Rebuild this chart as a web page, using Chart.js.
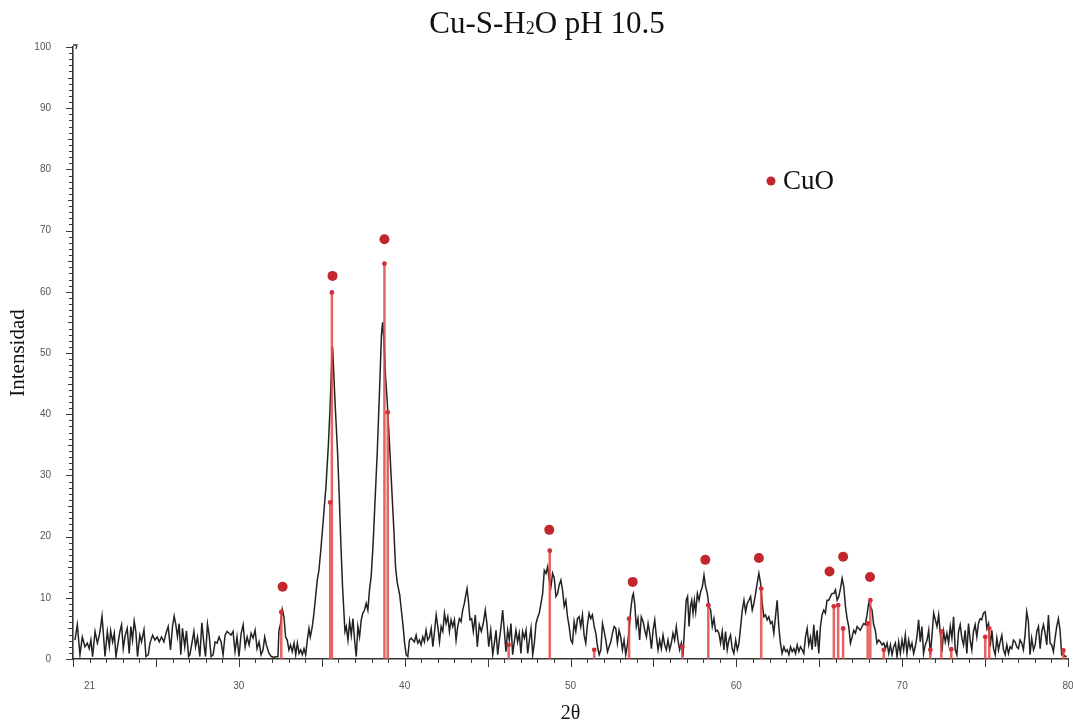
<!DOCTYPE html>
<html>
<head>
<meta charset="utf-8">
<title>Cu-S-H2O pH 10.5</title>
<script src="https://cdn.jsdelivr.net/npm/chart.js@4.4.1/dist/chart.umd.min.js"></script>
<style>
  html, body { margin: 0; padding: 0; background: #ffffff; }
  #wrap { width: 1073px; height: 726px; }
</style>
</head>
<body>
<div id="wrap"><canvas id="xrd" width="1073" height="726"></canvas></div>
<script>
// Diffractogram: 2θ (degrees) and measured intensity
const twoTheta = [
  20.12,20.26,20.42,20.56,20.72,20.86,20.98,21.08,21.18,21.33,
  21.47,21.59,21.67,21.75,21.83,21.93,22.07,22.19,22.27,22.39,
  22.49,22.59,22.73,22.83,22.93,23.03,23.15,23.27,23.39,23.49,
  23.59,23.69,23.79,23.89,24.03,24.13,24.28,24.4,24.54,24.64,
  24.8,24.94,25.08,25.2,25.34,25.48,25.64,25.74,25.88,26.0,
  26.1,26.2,26.3,26.4,26.5,26.6,26.74,26.84,26.97,27.05,
  27.17,27.29,27.39,27.51,27.65,27.77,27.89,27.99,28.11,28.21,
  28.33,28.45,28.57,28.69,28.81,28.93,29.05,29.17,29.29,29.41,
  29.53,29.65,29.77,29.89,30.01,30.14,30.26,30.38,30.5,30.62,
  30.74,30.86,30.98,31.1,31.22,31.34,31.46,31.56,31.66,31.82,
  31.96,32.1,32.36,32.42,32.52,32.62,32.72,32.82,32.92,33.02,
  33.12,33.22,33.33,33.43,33.53,33.63,33.73,33.83,33.93,34.03,
  34.13,34.23,34.31,34.43,34.53,34.63,34.73,34.83,
  34.95,35.1,35.25,35.4,35.5,35.58,35.65,35.72,35.8,35.95,
  36.05,36.15,36.25,36.33,36.4,36.48,36.58,36.68,36.78,36.88,
  36.98,37.08,37.18,37.28,37.38,37.48,37.58,37.68,37.78,37.88,37.98,
  38.1,38.2,38.35,38.5,38.6,38.67,38.75,38.85,38.95,39.05,
  39.2,39.35,39.45,39.55,39.7,39.8,39.9,40.0,40.09,40.19,
  40.29,40.39,40.49,40.59,40.69,40.79,40.89,40.99,41.09,41.19,
  41.29,41.39,41.5,41.6,41.7,41.8,41.9,42.0,42.1,42.2,
  42.3,42.4,42.5,42.6,42.7,42.8,42.9,43.0,43.1,43.2,
  43.3,43.4,43.5,43.6,43.7,43.76,43.84,43.94,44.04,44.14,
  44.26,44.38,44.5,44.62,44.74,44.86,44.96,45.07,45.19,45.31,
  45.41,45.51,45.61,45.71,45.81,45.91,46.01,46.11,46.21,46.31,
  46.41,46.51,46.61,46.71,46.81,46.91,47.01,47.11,47.22,47.32,
  47.42,47.52,47.62,47.72,47.82,47.92,48.03,48.12,48.22,48.32,
  48.42,48.52,48.62,48.72,48.82,48.92,49.02,49.12,49.22,49.32,
  49.42,49.52,49.62,49.72,49.82,
  49.92,50.02,50.12,50.22,50.32,50.42,50.52,50.62,50.72,50.82,
  50.92,51.02,51.12,51.22,51.32,51.43,51.53,51.63,51.73,51.83,
  51.93,52.03,52.13,52.23,52.33,52.43,52.53,52.63,52.73,52.83,
  52.93,53.03,53.13,53.23,53.33,53.43,53.53,53.63,53.73,53.79,
  53.87,53.97,54.07,54.17,54.27,54.38,54.48,54.58,54.68,54.78,
  54.88,54.98,55.08,55.18,55.28,55.38,55.48,55.58,55.68,55.78,
  55.88,55.98,56.08,56.18,56.28,56.38,56.48,56.58,56.68,56.78,
  56.88,56.98,57.06,57.15,57.23,57.31,57.39,57.47,57.55,57.65,
  57.75,57.85,57.95,58.05,58.15,58.25,58.35,58.45,58.55,58.65,
  58.75,58.85,58.95,59.05,59.15,59.25,59.35,59.45,59.55,59.65,
  59.75,59.85,59.96,60.06,60.16,60.26,60.36,60.46,60.56,60.66,
  60.76,60.86,60.96,61.06,61.16,61.26,61.36,61.46,61.56,61.66,
  61.76,61.86,61.96,62.06,62.16,62.26,62.36,62.46,62.56,62.66,
  62.76,62.87,62.97,63.07,63.17,63.27,63.37,63.47,63.57,63.67,
  63.77,63.87,63.97,64.07,64.17,64.27,64.37,64.47,64.57,64.67,
  64.77,64.87,64.97,65.07,65.17,65.27,65.37,65.47,65.57,65.67,
  65.77,65.88,65.98,66.08,66.18,66.28,66.38,66.48,66.58,66.68,
  66.78,66.88,66.98,67.08,67.18,67.28,67.38,67.48,67.58,67.68,
  67.78,67.88,67.98,68.08,68.18,68.28,68.38,68.48,68.58,68.69,
  68.79,68.89,68.99,69.09,69.19,69.29,69.39,69.49,69.59,69.69,
  69.79,69.89,69.99,70.09,70.19,70.29,70.39,70.49,70.59,70.69,
  70.79,70.89,70.99,71.09,71.19,71.29,71.39,71.5,71.6,71.7,
  71.8,71.9,72.0,72.1,72.2,72.3,72.4,72.5,72.6,72.7,
  72.8,72.9,73.0,73.1,73.2,73.3,73.4,73.5,73.6,73.7,
  73.8,73.9,74.0,74.1,74.2,74.3,74.4,74.5,74.6,74.7,
  74.8,74.9,75.01,75.11,75.21,75.31,75.41,75.51,75.61,75.71,
  75.81,75.91,76.01,76.11,76.21,76.31,76.41,76.51,76.61,76.71,
  76.81,76.91,77.01,77.11,77.21,77.31,77.41,77.51,77.61,77.71,
  77.81,77.92,78.02,78.12,78.22,78.32,78.42,78.52,78.62,78.72,
  78.82,78.92,79.02,79.12,79.22,79.32,79.42,79.52,79.62,79.72,
  79.82,79.92
];
const intensity = [
  3.1,5.6,0.7,3.6,2.0,2.6,1.7,3.1,0.4,4.5,
  2.6,3.9,5.3,7.0,4.2,0.4,4.5,2.0,4.6,2.8,
  4.2,0.4,2.8,4.5,5.6,1.7,3.9,5.0,0.9,5.3,
  3.1,6.2,4.5,0.4,3.9,2.8,4.8,0.4,0.7,2.6,
  3.9,3.1,3.6,2.8,3.6,2.8,4.5,5.3,1.5,5.3,
  7.0,5.6,3.6,5.8,0.7,5.0,2.0,4.6,0.4,0.7,
  2.6,4.5,2.0,3.6,0.4,5.9,2.6,0.4,5.7,3.9,
  0.4,0.7,2.8,2.6,3.6,2.8,0.7,3.9,4.5,4.2,
  3.9,4.5,1.2,3.6,0.4,4.2,5.6,2.0,3.6,2.3,
  4.2,3.4,4.7,1.7,2.8,0.7,1.5,3.6,2.3,0.9,
  0.4,0.3,0.4,4.7,5.8,8.1,6.9,3.6,3.1,1.5,
  2.3,1.2,2.6,0.7,2.6,0.9,1.5,0.7,1.7,0.7,
  3.1,5.0,3.6,5.3,7.5,10.2,12.9,14.5,
  18,23,28,35,41,47,51,47,42,34,
  27,19,12,8,4.5,5.3,3.1,6.1,3.9,6.6,
  3.1,0.4,5.3,3.6,6.4,7.5,8.0,9.1,8.0,11.3,13.5,
  19,25,34,45,53,55,52,46,42,37,
  29,21,15,12.5,10.5,8,5.5,2.5,0.7,0.4,
  3.1,3.4,3.1,2.8,3.9,2.6,3.1,2.3,3.6,2.8,
  4.7,3.1,3.6,5.0,2.0,4.5,7.2,5.3,2.8,5.3,
  4.5,7.5,5.8,6.9,4.5,6.4,5.3,6.4,3.1,5.3,
  6.6,6.1,8.0,9.1,10.7,11.5,9.6,6.4,6.6,4.5,
  7.2,2.0,5.6,4.5,5.8,8.0,5.8,2.0,4.7,0.7,
  2.6,4.7,0.7,3.1,5.3,8.0,4.5,1.2,4.7,3.1,
  5.8,0.7,2.8,4.7,2.8,4.2,0.9,4.5,3.4,4.7,
  0.9,3.1,5.0,0.7,2.6,5.8,6.9,7.5,9.1,10.7,
  14.5,14.0,15.1,12.9,11.8,14.0,13.2,10.2,10.7,12.1,
  12.9,11.3,8.6,9.6,6.9,
  5.3,3.1,2.6,6.1,4.5,6.6,6.9,5.3,7.2,3.9,
  2.6,5.6,7.5,6.6,7.2,5.3,4.2,2.0,0.7,1.5,
  5.8,4.5,3.1,1.2,2.0,2.8,4.2,5.3,5.0,2.6,
  4.7,3.6,1.5,3.1,0.7,2.3,4.5,8.0,10.2,10.7,
  9.1,5.3,6.6,3.1,6.9,6.1,4.7,3.6,5.8,4.2,
  1.7,4.7,6.4,3.6,1.5,3.1,1.7,3.9,2.3,1.5,
  3.1,1.5,2.6,4.2,3.1,5.3,3.1,1.5,2.6,0.4,
  5.3,9.6,10.2,5.3,8.6,9.6,7.5,9.6,7.7,10.7,
  9.6,11.0,11.8,13.7,11.8,10.7,8.6,8.0,5.3,6.6,
  4.5,4.7,4.2,2.6,4.5,1.5,4.5,1.5,3.1,3.9,
  1.7,0.9,3.1,1.5,2.6,5.3,8.0,9.6,7.7,9.1,
  9.6,10.2,8.0,9.1,10.7,12.4,14.0,12.4,9.1,6.9,
  7.2,6.4,6.9,5.8,6.1,4.2,6.9,9.6,5.3,2.6,
  0.9,2.0,1.2,1.5,0.7,2.0,1.2,1.7,0.9,2.3,
  1.2,2.0,1.5,0.9,3.6,5.0,2.3,3.6,1.5,5.6,
  2.0,4.7,0.9,5.3,7.2,8.0,7.5,9.6,9.6,10.2,
  10.7,10.7,11.3,9.6,10.2,11.5,13.2,11.8,8.6,6.6,
  5.3,2.6,3.6,4.7,4.2,5.3,5.0,4.7,5.3,5.8,
  5.6,7.2,9.1,8.6,8.0,5.6,4.7,2.6,3.1,2.8,
  2.3,2.6,1.7,2.6,0.9,2.3,0.7,2.0,2.6,0.4,
  2.8,0.9,3.1,1.5,3.9,0.9,3.1,1.7,2.6,0.9,
  2.0,3.6,6.4,2.8,5.3,0.9,2.3,3.1,4.7,0.7,
  3.9,7.5,6.4,5.3,7.2,4.2,1.2,4.5,2.8,4.2,
  2.6,5.3,3.4,6.9,1.5,0.7,4.5,5.6,3.4,2.3,
  4.7,0.9,5.8,3.1,1.5,4.5,5.6,3.6,5.8,6.6,
  6.4,7.5,7.7,5.0,5.8,2.0,4.7,1.7,0.7,3.4,
  1.5,2.8,3.9,1.5,0.7,2.3,0.9,2.0,1.7,3.1,
  2.8,2.0,1.7,3.1,2.6,1.5,3.9,7.7,6.1,0.7,
  3.4,1.5,2.3,4.5,5.3,1.7,4.5,5.6,4.2,2.3,
  7.2,2.6,2.3,1.2,3.4,5.3,6.6,4.7,0.7,0.8,
  0.4,0.5
];

// CuO reference pattern: line positions (2θ) and relative heights
const stickPos = [32.56, 35.51, 35.61, 38.78, 38.98, 46.27, 48.75, 51.43, 53.53, 56.74,
                  58.31, 61.5, 65.88, 66.14, 66.44, 67.92, 68.08, 68.89, 71.7, 72.36,
                  72.96, 75.01, 75.25, 79.72];
const stickTop = [7.7, 25.6, 59.9, 64.6, 40.3, 2.3, 17.7, 1.5, 6.6, 2.0,
                  8.8, 11.5, 8.6, 8.8, 5.0, 5.8, 9.6, 1.5, 1.5, 4.5,
                  1.6, 3.6, 5.0, 1.4];

// Peaks identified as CuO (marker positions)
const cuoPeakPos = [32.64, 35.65, 38.78, 48.72, 53.75, 58.13, 61.36, 65.62, 66.44, 68.06];
const cuoPeakMark = [11.8, 62.6, 68.6, 21.1, 12.6, 16.2, 16.5, 14.3, 16.7, 13.4];

// Axis labels
const xTickLabels = [21, 30, 40, 50, 60, 70, 80];
const yTickLabels = [0, 10, 20, 30, 40, 50, 60, 70, 80, 90, 100];

const SERIF = '"Liberation Serif", "Times New Roman", serif';
const SANS = '"Liberation Sans", Arial, sans-serif';

const scanPoints = twoTheta.map((t, i) => ({ x: t, y: intensity[i] }));
const stickLines = [];
stickPos.forEach((p, i) => {
  stickLines.push({ x: p, y: 0 }, { x: p, y: stickTop[i] }, { x: p, y: null });
});
const stickHeads = stickPos.map((p, i) => ({ x: p, y: stickTop[i] }));
const cuoMarks = cuoPeakPos.map((p, i) => ({ x: p, y: cuoPeakMark[i] }));

// Minor/major tick marks on both axes plus the small arrow at the top of the y axis
const axisMarks = {
  id: 'axisMarks',
  afterDraw(chart) {
    const { ctx, chartArea: a, scales: { x, y } } = chart;
    ctx.save();
    ctx.strokeStyle = '#3a3a3a';
    ctx.lineWidth = 1;
    for (let v = Math.ceil(x.min); v <= x.max; v++) {
      const px = Math.round(x.getPixelForValue(v)) + 0.5;
      const len = v % 5 === 0 ? 8 : 4;
      ctx.beginPath();
      ctx.moveTo(px, a.bottom);
      ctx.lineTo(px, a.bottom + len);
      ctx.stroke();
    }
    for (let v = y.min; v <= y.max; v++) {
      const py = Math.round(y.getPixelForValue(v)) + 0.5;
      const len = v % 10 === 0 ? 7 : (v % 5 === 0 ? 5 : 4);
      ctx.beginPath();
      ctx.moveTo(a.left, py);
      ctx.lineTo(a.left - len, py);
      ctx.stroke();
    }
    ctx.lineWidth = 1.3;
    ctx.beginPath();
    ctx.moveTo(a.left, a.top - 2);
    ctx.lineTo(a.left + 4, a.top - 2);
    ctx.lineTo(a.left + 3, a.top + 2);
    ctx.stroke();
    ctx.restore();
  }
};

// Chart heading (with subscript 2) and the CuO key
const headingAndKey = {
  id: 'headingAndKey',
  afterDraw(chart) {
    const { ctx } = chart;
    ctx.save();
    ctx.fillStyle = '#111';
    ctx.textBaseline = 'alphabetic';
    const big = '31px ' + SERIF;
    const small = '18px ' + SERIF;
    const parts = [['Cu-S-H', big, 0], ['2', small, 1], ['O pH 10.5', big, 0]];
    let total = 0;
    parts.forEach(p => { ctx.font = p[1]; total += ctx.measureText(p[0]).width; });
    let cx = 547 - total / 2;
    const base = 33;
    parts.forEach(p => {
      ctx.font = p[1];
      ctx.fillText(p[0], cx, base + p[2]);
      cx += ctx.measureText(p[0]).width;
    });
    ctx.fillStyle = '#c1272d';
    ctx.beginPath();
    ctx.arc(771, 181, 4.5, 0, Math.PI * 2);
    ctx.fill();
    ctx.fillStyle = '#111';
    ctx.font = '27px ' + SERIF;
    ctx.textBaseline = 'middle';
    ctx.fillText('CuO', 783, 182);
    ctx.restore();
  }
};

new Chart(document.getElementById('xrd'), {
  type: 'scatter',
  data: {
    datasets: [
      {
        label: 'CuO markers', data: cuoMarks, pointRadius: 5, pointHoverRadius: 5,
        backgroundColor: '#c1272d', borderWidth: 0, order: 0
      },
      {
        label: 'CuO line tops', data: stickHeads, pointRadius: 2.4, pointHoverRadius: 2.4,
        backgroundColor: '#d0303a', borderWidth: 0, order: 1
      },
      {
        label: 'CuO lines', data: stickLines, showLine: true, spanGaps: false,
        borderColor: 'rgba(224,74,74,0.85)', borderWidth: 2.5, pointRadius: 0, order: 2
      },
      {
        label: 'Scan', data: scanPoints, showLine: true, borderColor: '#222222',
        borderWidth: 1.5, pointRadius: 0, tension: 0, order: 3
      }
    ]
  },
  options: {
    responsive: false,
    animation: false,
    devicePixelRatio: 1,
    events: [],
    layout: { padding: { top: 47, right: 3, bottom: 0, left: 0 } },
    plugins: {
      legend: { display: false },
      tooltip: { enabled: false },
      title: { display: false }
    },
    scales: {
      x: {
        type: 'linear', min: 20, max: 80,
        afterFit(s) { s.height = 67; s.paddingLeft = 0; s.paddingRight = 0; },
        grid: { display: false, drawTicks: false },
        border: { display: true, color: '#333', width: 1.6 },
        ticks: {
          stepSize: 1, autoSkip: false, maxRotation: 0, minRotation: 0, padding: 21,
          color: '#555', font: { family: SANS, size: 10 },
          callback: v => (xTickLabels.includes(Math.round(v)) && Math.abs(v - Math.round(v)) < 1e-6) ? String(Math.round(v)) : ''
        },
        title: {
          display: true, text: '2θ', color: '#111',
          font: { family: SERIF, size: 20 }, padding: { top: 0, bottom: 0 }
        }
      },
      y: {
        type: 'linear', min: 0, max: 100,
        afterFit(s) { s.width = 73; },
        grid: { display: false, drawTicks: false },
        border: { display: true, color: '#333', width: 1.6 },
        afterBuildTicks(s) { s.ticks = yTickLabels.map(v => ({ value: v })); },
        ticks: {
          padding: 22, color: '#555', font: { family: SANS, size: 10 }
        },
        title: {
          display: true, text: 'Intensidad', color: '#111',
          font: { family: SERIF, size: 21 }, padding: { top: 6, bottom: 0 }
        }
      }
    }
  },
  plugins: [axisMarks, headingAndKey]
});
</script>
</body>
</html>
